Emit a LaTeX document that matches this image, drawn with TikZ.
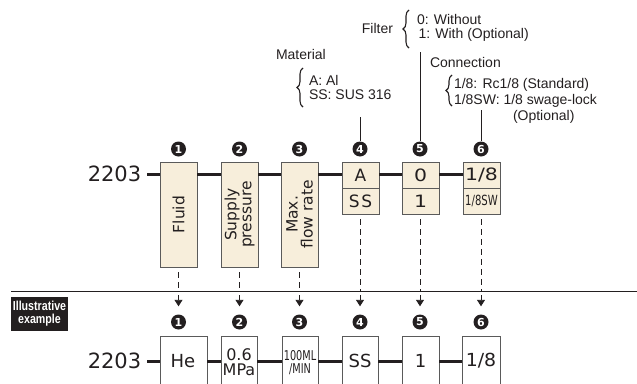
\documentclass[tikz,border=0pt]{standalone}
\usepackage{fontspec}
\setmainfont{DejaVu Sans}
\newfontfamily\annfont{Liberation Sans}
\usetikzlibrary{arrows.meta,decorations.pathreplacing}
\definecolor{cream}{HTML}{F7EEDB}
\definecolor{edge}{HTML}{5A5A5A}
\definecolor{ink}{HTML}{231F20}
\newcommand\sx[2]{\scalebox{#1}[1]{#2}}
\tikzset{
 lbl/.style={inner sep=0pt, outer sep=0pt, text=ink},
 codetxt/.style={lbl, font=\fontsize{21}{21}\selectfont},
 tallbox/.style={draw=edge, line width=0.9pt, fill=cream, minimum width=37pt, minimum height=105pt, inner sep=0pt},
 halfbox/.style={draw=edge, line width=0.9pt, fill=cream, minimum width=37pt, minimum height=26pt, inner sep=0pt, text=ink, font=\fontsize{17}{17}\selectfont},
 exbox/.style={draw=edge, line width=0.9pt, fill=white, minimum height=70pt, inner sep=0pt},
 extxt/.style={lbl, align=center, font=\fontsize{18}{16}\selectfont},
 vtext/.style={lbl, rotate=90, align=center, font=\fontsize{15.5}{15}\selectfont},
 num/.style={circle, fill=ink, minimum size=15pt, inner sep=0pt, text=white, font=\fontsize{11}{11}\selectfont\bfseries},
 mainline/.style={line width=3pt, draw=ink},
 guide/.style={line width=0.9pt, draw=ink, dash pattern=on 6pt off 4pt},
 hrule/.style={line width=0.9pt, draw=ink},
 pointer/.style={line width=0.9pt, draw=ink, -{Triangle[width=8pt,length=6.5pt]}},
 ann/.style={lbl, font=\annfont\fontsize{14}{16}\selectfont},
 bracestyle/.style={decorate, decoration={brace, amplitude=6pt}, line width=1.1pt, draw=ink},
 stick/.style={line width=0.9pt, draw=ink},
 extag/.style={fill=ink, text=white, minimum width=57pt, minimum height=34pt, inner sep=0pt, align=center, font=\annfont\bfseries\fontsize{13}{13}\selectfont},
}
\begin{document}
\begin{tikzpicture}[x=1pt,y=-1pt]
\useasboundingbox (0,0) rectangle (637,383);
\clip (0,0) rectangle (637,383);

% ---------- top row ----------
\node[codetxt] (code1) at (114.5,174) {2203};
\node[tallbox] (box1) at (178.5,214.5) {};
\node[tallbox] (box2) at (239.5,214.5) {};
\node[tallbox] (box3) at (299.5,214.5) {};
\node[halfbox] (u4) at (360.5,175) {A};
\node[halfbox] (l4) at (360.5,201) {S\kern1.5pt S};
\node[halfbox] (u5) at (420.5,175) {\sx{1.2}{0}};
\node[halfbox] (l5) at (420.5,201) {\sx{1.2}{1}};
\node[halfbox] (u6) at (481.5,175) {\sx{1.2}{1/8}};
\node[halfbox] (l6) at (481.5,201) {\fontsize{14}{14}\selectfont\sx{0.72}{1/8SW}};

\node[vtext] at (box1) {Fluid};
\node[vtext] at (box2) {Supply\\pressure};
\node[vtext] at (box3) {Max.\\flow rate};

\draw[mainline] ([xshift=6pt]code1.east) -- (box1.west |- code1.east);
\draw[mainline] (box1.east |- code1.east) -- (box2.west |- code1.east);
\draw[mainline] (box2.east |- code1.east) -- (box3.west |- code1.east);
\draw[mainline] (box3.east |- code1.east) -- (u4.west |- code1.east);
\draw[mainline] (u4.east |- code1.east) -- (u5.west |- code1.east);
\draw[mainline] (u5.east |- code1.east) -- (u6.west |- code1.east);

\node[num] (ct1) at (178.5,149) {1};
\node[num] (ct2) at (239.5,149) {2};
\node[num] (ct3) at (299.5,149) {3};
\node[num] (ct4) at (360,149) {4};
\node[num] (ct5) at (420,149) {5};
\node[num] (ct6) at (481,149) {6};

% ---------- annotations ----------
\node[ann, anchor=base east] (filt) at (393,33) {Filter};
\node[ann, anchor=base west] (f0) at (417,24.5) {0: Without};
\node[ann, anchor=base west] (f1) at (418.5,38.5) {1: With (Optional)};
\draw[bracestyle] (409,48) -- (409,10);
\coordinate (fl) at (420,52);
\draw[stick] (fl) -- (ct5.north);

\node[ann, anchor=base west] (mat) at (276,59.5) {Material};
\node[ann, anchor=base west] (ma) at (309,85) {A: Al};
\node[ann, anchor=base west] (ms) at (309,99.5) {SS: SUS 316};
\draw[bracestyle] (303,107) -- (303,68);
\coordinate (ml) at (360,117);
\draw[stick] (ml) -- (ct4.north);

\node[ann, anchor=base west] (con) at (430,67) {Connection};
\node[ann, anchor=base west] (c1) at (454,88.5) {1/8: Rc1/8 (Standard)};
\node[ann, anchor=base west] (c2) at (454,104) {1/8SW: 1/8 swage-lock};
\node[ann, anchor=base west] (c3) at (513,120) {(Optional)};
\draw[bracestyle] (452,106) -- (452,75);
\coordinate (cl) at (481,110);
\draw[stick] (cl) -- (ct6.north);

% ---------- separator ----------
\coordinate (hr) at (11,291);
\coordinate (hrend) at (637,291);
\draw[hrule] (hr) -- (hrend);
\node[extag] (tag) at (39.5,314) {\sx{0.82}{Illustrative}\\\sx{0.82}{example}};

\draw[guide] ([yshift=-5pt]box1.south) -- (box1.south |- hr);
\draw[guide] ([yshift=-5pt]box2.south) -- (box2.south |- hr);
\draw[guide] ([yshift=-5pt]box3.south) -- (box3.south |- hr);
\draw[guide] ([yshift=-5pt]l4.south) -- (l4.south |- hr);
\draw[guide] ([yshift=-5pt]l5.south) -- (l5.south |- hr);
\draw[guide] ([yshift=-5pt]l6.south) -- (l6.south |- hr);

% ---------- bottom row ----------
\node[num] (cb1) at (178.5,322) {1};
\node[num] (cb2) at (239.5,322) {2};
\node[num] (cb3) at (299.5,322) {3};
\node[num] (cb4) at (360,322) {4};
\node[num] (cb5) at (420,322) {5};
\node[num] (cb6) at (481,322) {6};

\foreach \i in {1,...,6}{
  \draw[pointer, shorten <=4pt, shorten >=8pt] (cb\i.north |- hr) -- (cb\i.north);
}

\node[codetxt] (code2) at (114.5,361) {2203};
\node[exbox, minimum width=47pt] (e1) at (183.5,371) {};
\node[exbox, minimum width=36pt] (e2) at (239,371) {};
\node[exbox, minimum width=36pt] (e3) at (300,371) {};
\node[exbox, minimum width=36pt] (e4) at (360,371) {};
\node[exbox, minimum width=37pt] (e5) at (420.5,371) {};
\node[exbox, minimum width=38pt] (e6) at (481,371) {};

\node[extxt] at (183,361) {He};
\node[extxt, font=\fontsize{16}{14.5}\selectfont] at (239,362) {0.6\\MPa};
\node[extxt, font=\fontsize{13.5}{13}\selectfont] at (300,363) {\sx{0.72}{100ML}\\\sx{0.72}{/MIN}};
\node[extxt] at (360,361) {SS};
\node[extxt] at (420.5,361) {1};
\node[extxt] at (481,361) {\sx{1.05}{1/8}};

\draw[mainline] ([xshift=6pt]code2.east) -- (e1.west |- code2.east);
\draw[mainline] (e1.east |- code2.east) -- (e2.west |- code2.east);
\draw[mainline] (e2.east |- code2.east) -- (e3.west |- code2.east);
\draw[mainline] (e3.east |- code2.east) -- (e4.west |- code2.east);
\draw[mainline] (e4.east |- code2.east) -- (e5.west |- code2.east);
\draw[mainline] (e5.east |- code2.east) -- (e6.west |- code2.east);
\end{tikzpicture}
\end{document}
